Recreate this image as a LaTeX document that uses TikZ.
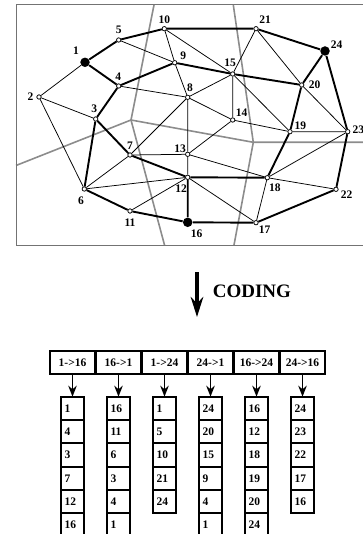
\documentclass[tikz,border=0pt]{standalone}
\usepackage{fontspec}
\setmainfont{Liberation Serif}
\usetikzlibrary{arrows.meta, positioning}

\begin{document}
\begin{tikzpicture}[x=1pt, y=-1pt, >=Stealth, line width=0.75pt,
  vtx/.style={draw, circle, fill=white, inner sep=0pt, minimum size=4.4pt, line width=0.75pt},
  term/.style={circle, fill=black, inner sep=0pt, minimum size=9.5pt},
  lbl/.style={font=\bfseries\fontsize{11.5}{13}\selectfont, inner sep=0pt},
  route/.style={line width=1.9pt},
  zone/.style={draw=black!45, line width=1.6pt},
  hdr/.style={draw, line width=2pt, minimum width=45pt, minimum height=23pt, inner sep=0pt, outer sep=0pt, font=\bfseries\fontsize{11.5}{13}\selectfont},
  cell/.style={draw, line width=2pt, minimum height=23.3pt, text width=16pt, inner xsep=3.6pt, inner ysep=0pt, align=left, outer sep=0pt, font=\bfseries\fontsize{11.5}{13}\selectfont},
  feed/.style={-{Stealth[length=11pt, width=8.5pt]}, line width=1.8pt}]

\useasboundingbox (0,0) rectangle (363,534);

% Zones and frame
\draw[zone] (154,5) -- (131,120) -- (164.5,245);
\draw[zone] (16,165.5) -- (131,120) -- (253.3,142.3) -- (363,142.3);
\draw[zone] (233.3,5) -- (253.3,142.3) -- (234,245);
\draw[draw=black!55, line width=1pt] (16,5) rectangle (370,245);

% Graph nodes
\node (n1) [term] at (85,62.3) {};
\node (n2) [vtx] at (39,97) {};
\node (n3) [vtx] at (95.7,119) {};
\node (n4) [vtx] at (118.7,86) {};
\node (n5) [vtx] at (118.7,40) {};
\node (n6) [vtx] at (84.3,189) {};
\node (n7) [vtx] at (130,155) {};
\node (n8) [vtx] at (187.7,97.3) {};
\node (n9) [vtx] at (174.7,62.7) {};
\node (n10) [vtx] at (164.3,28.7) {};
\node (n11) [vtx] at (130,211) {};
\node (n12) [vtx] at (187.7,177.3) {};
\node (n13) [vtx] at (187.7,154.3) {};
\node (n14) [vtx] at (232.7,120) {};
\node (n15) [vtx] at (232.7,74) {};
\node (n16) [term] at (187.7,222.3) {};
\node (n17) [vtx] at (256,222.7) {};
\node (n18) [vtx] at (267.3,177.7) {};
\node (n19) [vtx] at (290,131.7) {};
\node (n20) [vtx] at (301.7,85) {};
\node (n21) [vtx] at (256,28.7) {};
\node (n22) [vtx] at (336,189.3) {};
\node (n23) [vtx] at (347.7,131.7) {};
\node (n24) [term] at (325,51) {};

% Thin edges
\draw (n1) -- (n2) (n2) -- (n3) (n2) -- (n6) (n5) -- (n9) (n4) -- (n8);
\draw (n8) -- (n9) (n9) -- (n10) (n10) -- (n15) (n8) -- (n15) (n8) -- (n13);
\draw (n8) -- (n7) (n8) -- (n14) (n15) -- (n21) (n15) -- (n14) (n15) -- (n19);
\draw (n21) -- (n20) (n20) -- (n23) (n14) -- (n13) (n14) -- (n19) (n19) -- (n23);
\draw (n18) -- (n23) (n13) -- (n7) (n13) -- (n12) (n13) -- (n18) (n18) -- (n22);
\draw (n18) -- (n17) (n12) -- (n17) (n12) -- (n11) (n12) -- (n6) (n6) -- (n7);

% Thick edges
\draw[route] (n1) -- (n5) -- (n10) -- (n21) -- (n24) -- (n23) -- (n22) -- (n17) -- (n16) -- (n11) -- (n6) -- (n3) -- (n4) -- (n1);
\draw[route] (n24) -- (n20) -- (n19) -- (n18) -- (n12) -- (n16);
\draw[route] (n4) -- (n9) -- (n15) -- (n20);
\draw[route] (n3) -- (n7) -- (n12);

% Node numbers
\node (l1) [lbl] at ([xshift=-9pt, yshift=11.6pt]n1) {1};
\node (l2) [lbl] at ([xshift=-8.5pt, yshift=0pt]n2) {2};
\node (l3) [lbl] at ([xshift=-1.4pt, yshift=10pt]n3) {3};
\node (l4) [lbl] at ([xshift=-0.4pt, yshift=8.8pt]n4) {4};
\node (l5) [lbl] at ([xshift=0pt, yshift=10.3pt]n5) {5};
\node (l6) [lbl] at ([xshift=-3.3pt, yshift=-12pt]n6) {6};
\node (l7) [lbl] at ([xshift=0pt, yshift=9.3pt]n7) {7};
\node (l8) [lbl] at ([xshift=2.3pt, yshift=10pt]n8) {8};
\node (l9) [lbl] at ([xshift=8.6pt, yshift=7pt]n9) {9};
\node (l10) [lbl] at ([xshift=0pt, yshift=8.5pt]n10) {10};
\node (l11) [lbl] at ([xshift=0pt, yshift=-11.3pt]n11) {11};
\node (l12) [lbl] at ([xshift=-6.7pt, yshift=-11.7pt]n12) {12};
\node (l13) [lbl] at ([xshift=-7.7pt, yshift=5.3pt]n13) {13};
\node (l14) [lbl] at ([xshift=9pt, yshift=7pt]n14) {14};
\node (l15) [lbl] at ([xshift=-2.5pt, yshift=11pt]n15) {15};
\node (l16) [lbl] at ([xshift=9pt, yshift=-11pt]n16) {16};
\node (l17) [lbl] at ([xshift=8.6pt, yshift=-7.3pt]n17) {17};
\node (l18) [lbl] at ([xshift=7.5pt, yshift=-9.8pt]n18) {18};
\node (l19) [lbl] at ([xshift=10.3pt, yshift=6.2pt]n19) {19};
\node (l20) [lbl] at ([xshift=12.8pt, yshift=0.7pt]n20) {20};
\node (l21) [lbl] at ([xshift=9pt, yshift=8.7pt]n21) {21};
\node (l22) [lbl] at ([xshift=10.5pt, yshift=-5.2pt]n22) {22};
\node (l23) [lbl] at ([xshift=10.6pt, yshift=1.7pt]n23) {23};
\node (l24) [lbl] at ([xshift=11.7pt, yshift=6pt]n24) {24};

% Coding step
\coordinate (ctop) at (197,272);
\coordinate (cbot) at (197,317);
\draw[-{Stealth[length=20pt, width=12.5pt]}, line width=4pt] (ctop) -- (cbot);
\node (coding) [anchor=west, font=\bfseries\fontsize{19}{22}\selectfont, inner sep=0pt] at (212.5,291.5) {CODING};

% Header row
\node (h1) [hdr] at (72.5,362.5) {1->16};
\node (h2) [hdr, right=1pt of h1] {16->1};
\node (h3) [hdr, right=1pt of h2] {1->24};
\node (h4) [hdr, right=1pt of h3] {24->1};
\node (h5) [hdr, right=1pt of h4] {16->24};
\node (h6) [hdr, right=1pt of h5] {24->16};

% Columns
\node (a1) [cell, below=22.7pt of h1] {1};
\node (a2) [cell, below=0pt of a1] {4};
\node (a3) [cell, below=0pt of a2] {3};
\node (a4) [cell, below=0pt of a3] {7};
\node (a5) [cell, below=0pt of a4] {12};
\node (a6) [cell, below=0pt of a5] {16};

\node (b1) [cell, below=22.7pt of h2] {16};
\node (b2) [cell, below=0pt of b1] {11};
\node (b3) [cell, below=0pt of b2] {6};
\node (b4) [cell, below=0pt of b3] {3};
\node (b5) [cell, below=0pt of b4] {4};
\node (b6) [cell, below=0pt of b5] {1};

\node (c1) [cell, below=22.7pt of h3] {1};
\node (c2) [cell, below=0pt of c1] {5};
\node (c3) [cell, below=0pt of c2] {10};
\node (c4) [cell, below=0pt of c3] {21};
\node (c5) [cell, below=0pt of c4] {24};

\node (d1) [cell, below=22.7pt of h4] {24};
\node (d2) [cell, below=0pt of d1] {20};
\node (d3) [cell, below=0pt of d2] {15};
\node (d4) [cell, below=0pt of d3] {9};
\node (d5) [cell, below=0pt of d4] {4};
\node (d6) [cell, below=0pt of d5] {1};

\node (e1) [cell, below=22.7pt of h5] {16};
\node (e2) [cell, below=0pt of e1] {12};
\node (e3) [cell, below=0pt of e2] {18};
\node (e4) [cell, below=0pt of e3] {19};
\node (e5) [cell, below=0pt of e4] {20};
\node (e6) [cell, below=0pt of e5] {24};

\node (f1) [cell, below=22.7pt of h6] {24};
\node (f2) [cell, below=0pt of f1] {23};
\node (f3) [cell, below=0pt of f2] {22};
\node (f4) [cell, below=0pt of f3] {17};
\node (f5) [cell, below=0pt of f4] {16};

\draw[feed] (h1) -- (a1);
\draw[feed] (h2) -- (b1);
\draw[feed] (h3) -- (c1);
\draw[feed] (h4) -- (d1);
\draw[feed] (h5) -- (e1);
\draw[feed] (h6) -- (f1);
\end{tikzpicture}
\end{document}
